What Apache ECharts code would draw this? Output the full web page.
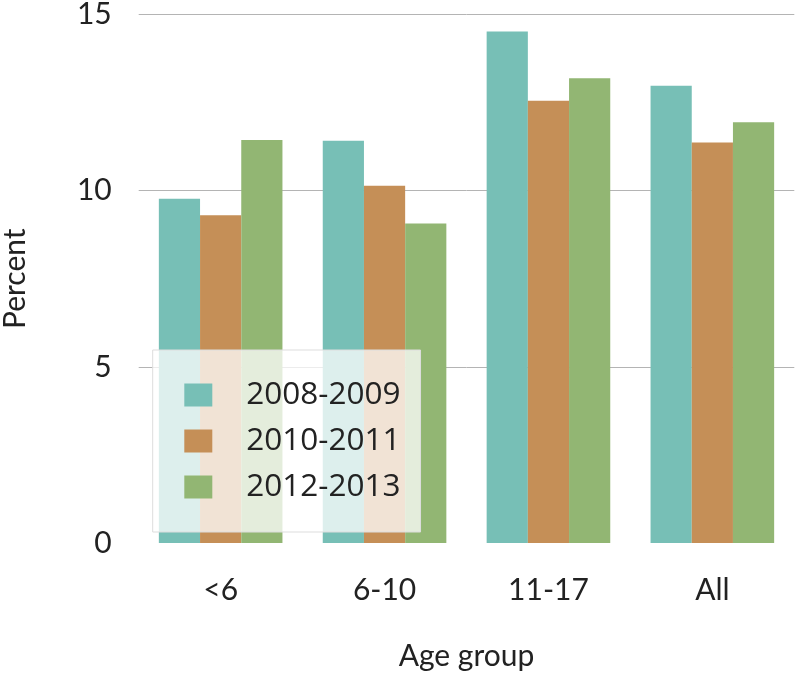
<!DOCTYPE html>
<html>
<head>
<meta charset="utf-8">
<script src="https://cdn.jsdelivr.net/npm/echarts@6/dist/echarts.min.js"></script>
<style>html,body{margin:0;padding:0;background:#fff}#c{width:800px;height:676px}</style>
</head>
<body>
<div id="c"></div>
<script>
var categories = ['<6', '6-10', '11-17', 'All'];
var seriesNames = ['2008-2009', '2010-2011', '2012-2013'];
var s2008 = [9.77, 11.42, 14.52, 12.98];
var s2010 = [9.30, 10.14, 12.55, 11.37];
var s2012 = [11.44, 9.07, 13.19, 11.94];
var yTicks = [0, 5, 10, 15];
var colors = ['#77bfb6', '#c58f57', '#92b673'];

var chart = echarts.init(document.getElementById('c'), null, {renderer: 'canvas'});
var font = 'Lato, "Open Sans", sans-serif';
var data = [s2008, s2010, s2012];
chart.setOption({
  animation: false,
  backgroundColor: '#fff',
  textStyle: {fontFamily: font, color: '#222'},
  grid: {left: 138.7, right: 5.7, top: 14.5, bottom: 133, containLabel: false, outerBoundsMode: 'none'},
  legend: {
    orient: 'vertical',
    left: 152.7,
    top: 350,
    padding: [29, 20, 29, 31.6],
    backgroundColor: 'rgba(255,255,255,0.75)',
    borderColor: '#dddddd',
    borderWidth: 1,
    itemWidth: 28,
    itemHeight: 23,
    itemGap: 14,
    icon: 'rect',
    textStyle: {fontSize: 31.5, lineHeight: 31, color: '#222', fontFamily: '"Open Sans", sans-serif', padding: [0, 0, 0, 29]},
    data: seriesNames
  },
  xAxis: {
    type: 'category',
    data: categories,
    axisLine: {show: false},
    axisTick: {show: false},
    axisLabel: {fontSize: 30, color: '#222', margin: 32},
    name: 'Age group',
    nameLocation: 'middle',
    nameGap: 98,
    nameTextStyle: {fontSize: 30, color: '#222'}
  },
  yAxis: {
    type: 'value',
    min: yTicks[0],
    max: yTicks[yTicks.length - 1],
    interval: yTicks[1] - yTicks[0],
    axisLine: {show: false},
    axisTick: {show: false},
    axisLabel: {fontSize: 30, color: '#222', margin: 27},
    splitLine: {lineStyle: {color: ['rgba(0,0,0,0)', '#b4b4b4', '#b4b4b4', '#b4b4b4'], width: 1}},
    name: 'Percent',
    nameLocation: 'middle',
    nameGap: 108,
    nameTextStyle: {fontSize: 30, color: '#222'}
  },
  series: seriesNames.map(function (n, i) {
    return {
      name: n,
      type: 'bar',
      data: data[i],
      barWidth: 41.2,
      barGap: '0%',
      itemStyle: {color: colors[i]}
    };
  })
});
</script>
</body>
</html>
